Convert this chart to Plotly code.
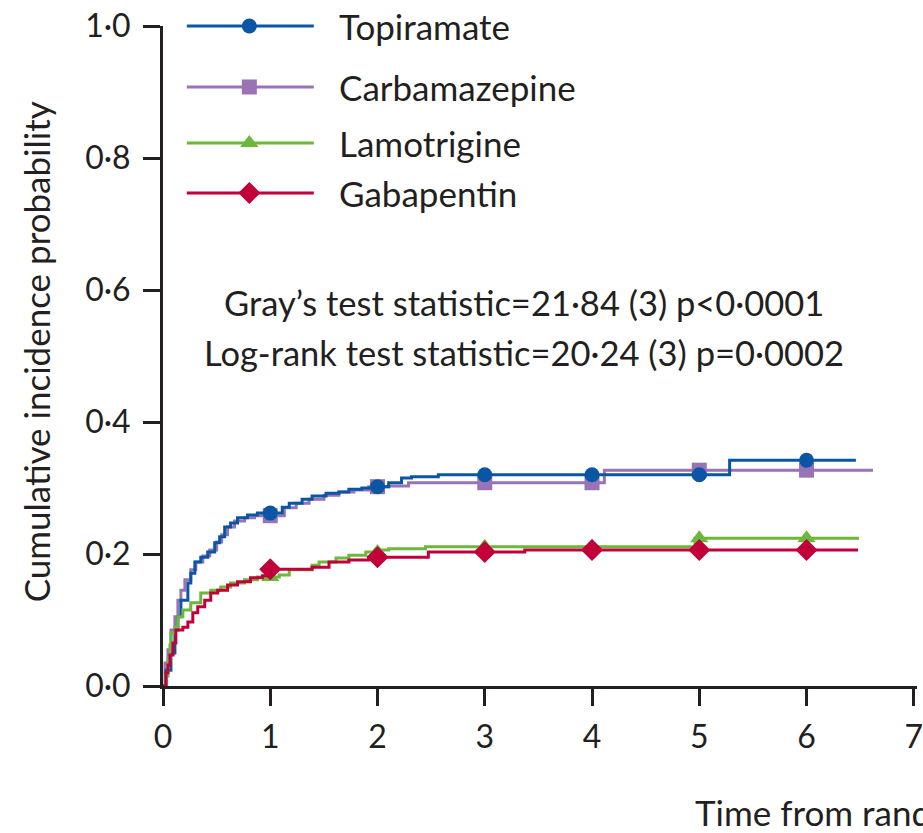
import numpy as np
import plotly.graph_objects as go

# Cumulative incidence step curves (time in years, probability)
topiramate_t = [0, 0.028, 0.074, 0.111, 0.139, 0.167, 0.232, 0.259, 0.297, 0.352, 0.417,
                0.482, 0.528, 0.575, 0.630, 0.695, 0.788, 0.880, 1.112, 1.177, 1.297,
                1.390, 1.520, 1.640, 1.733, 1.854, 1.983, 2.104, 2.224, 2.317, 2.567,
                5.283, 6.46]
topiramate_v = [0, 0.024, 0.050, 0.085, 0.105, 0.130, 0.156, 0.171, 0.188, 0.195, 0.203,
                0.217, 0.226, 0.241, 0.247, 0.255, 0.259, 0.262, 0.271, 0.277, 0.283,
                0.288, 0.292, 0.294, 0.298, 0.300, 0.302, 0.308, 0.315, 0.317, 0.320,
                0.342, 0.342]

carbamazepine_t = [0, 0.019, 0.046, 0.074, 0.111, 0.139, 0.167, 0.204, 0.259, 0.306, 0.371,
                   0.436, 0.500, 0.547, 0.602, 0.667, 0.760, 0.853, 1.131, 1.242, 1.362,
                   1.501, 1.640, 1.779, 1.918, 2.104, 2.289, 4.115, 6.62]
carbamazepine_v = [0, 0.035, 0.055, 0.085, 0.105, 0.130, 0.145, 0.161, 0.176, 0.188, 0.197,
                   0.206, 0.218, 0.229, 0.241, 0.250, 0.255, 0.258, 0.270, 0.277, 0.283,
                   0.289, 0.294, 0.297, 0.302, 0.303, 0.308, 0.327, 0.327]

lamotrigine_t = [0, 0.028, 0.046, 0.065, 0.074, 0.111, 0.139, 0.185, 0.259, 0.352, 0.445,
                 0.538, 0.630, 0.760, 0.880, 1.084, 1.177, 1.390, 1.455, 1.613, 1.733,
                 1.891, 2.011, 2.104, 2.447, 4.96, 6.49]
lamotrigine_v = [0, 0.015, 0.039, 0.062, 0.080, 0.089, 0.105, 0.115, 0.126, 0.141, 0.145,
                 0.150, 0.156, 0.161, 0.165, 0.168, 0.176, 0.183, 0.188, 0.194, 0.198,
                 0.203, 0.206, 0.208, 0.211, 0.224, 0.224]

gabapentin_t = [0, 0.028, 0.046, 0.065, 0.093, 0.120, 0.185, 0.232, 0.278, 0.324, 0.389,
                0.445, 0.510, 0.602, 0.695, 0.816, 0.927, 0.995, 1.39, 1.548, 1.733,
                1.918, 2.474, 3.373, 6.48]
gabapentin_v = [0, 0.020, 0.032, 0.047, 0.065, 0.085, 0.089, 0.097, 0.111, 0.120, 0.130,
                0.141, 0.145, 0.153, 0.158, 0.164, 0.167, 0.177, 0.180, 0.188, 0.191,
                0.195, 0.203, 0.206, 0.206]

marker_years = [1, 2, 3, 4, 5, 6]

x_ticks = [0, 1, 2, 3, 4, 5, 6, 7]
y_ticks = [0.0, 0.2, 0.4, 0.6, 0.8, 1.0]
y_tick_text = ["0·0", "0·2", "0·4", "0·6", "0·8", "1·0"]

gray_text = "Gray’s test statistic=21·84 (3) p<0·0001"
logrank_text = "Log-rank test statistic=20·24 (3) p=0·0002"

FONT = "Lato"
INK = "#231f20"
LW = 3

# name, times, values, colour, marker symbol, marker size (drawing order)
series = [
    ("Carbamazepine", carbamazepine_t, carbamazepine_v, "#9873b6", "square", 15),
    ("Topiramate", topiramate_t, topiramate_v, "#0b56a4", "circle", 15),
    ("Lamotrigine", lamotrigine_t, lamotrigine_v, "#6cb83a", "triangle-up", 16),
    ("Gabapentin", gabapentin_t, gabapentin_v, "#c1003b", "diamond", 17),
]
legend_order = ["Topiramate", "Carbamazepine", "Lamotrigine", "Gabapentin"]


def step_value(times, values, t):
    idx = np.searchsorted(np.asarray(times), t, side="right") - 1
    return float(np.asarray(values)[idx])


fig = go.Figure()

for name, t, v, col, sym, msz in series:
    fig.add_trace(go.Scatter(
        x=t, y=v, mode="lines", line=dict(color=col, width=LW, shape="hv"),
        showlegend=False, hoverinfo="skip"))
    my = [step_value(t, v, yr) for yr in marker_years]
    fig.add_trace(go.Scatter(
        x=marker_years, y=my, mode="markers",
        marker=dict(symbol=sym, size=msz, color=col, opacity=1, line=dict(width=0)),
        showlegend=False, cliponaxis=False, hoverinfo="skip"))

# Legend: sample lines as paper shapes, marker glyphs on an overlay axis
legend_rows = [1.0, 0.9076, 0.8227, 0.747]
style = {s[0]: s for s in series}
for row_y, name in zip(legend_rows, legend_order):
    _, _, _, col, sym, msz = style[name]
    fig.add_shape(type="line", xref="paper", yref="paper",
                  x0=0.0316, x1=0.2, y0=row_y, y1=row_y, layer="below",
                  line=dict(color=col, width=3.2))
    fig.add_trace(go.Scatter(
        x=[0.1145], y=[row_y], xaxis="x2", yaxis="y2", mode="markers",
        marker=dict(symbol=sym, size=msz, color=col, opacity=1, line=dict(width=0)),
        showlegend=False, cliponaxis=False, hoverinfo="skip"))
    fig.add_annotation(
        x=0.231, y=row_y, xref="x2", yref="y2", text=name, showarrow=False,
        xanchor="left", yanchor="middle", font=dict(family=FONT, size=35, color=INK))

fig.add_annotation(x=0.479, y=(686 - 302) / 660, xref="paper", yref="paper",
                   text=gray_text, showarrow=False, xanchor="center", yanchor="middle",
                   font=dict(family=FONT, size=34.5, color=INK))
fig.add_annotation(x=0.479, y=(686 - 352) / 660, xref="paper", yref="paper",
                   text=logrank_text, showarrow=False, xanchor="center", yanchor="middle",
                   font=dict(family=FONT, size=34.5, color=INK))

# Axis titles
fig.add_annotation(x=-0.168, y=0.506, xref="paper", yref="paper",
                   text="Cumulative incidence probability", textangle=-90,
                   showarrow=False, xanchor="center", yanchor="middle",
                   font=dict(family=FONT, size=35, color=INK))
fig.add_annotation(x=(697 - 163) / 760, y=(686 - 812) / 660, xref="paper", yref="paper",
                   text="Time from randomisation (years)", showarrow=False,
                   xanchor="left", yanchor="middle",
                   font=dict(family=FONT, size=35, color=INK))

fig.update_layout(
    width=923, height=833,
    margin=dict(l=163, r=0, t=26, b=147),
    paper_bgcolor="white", plot_bgcolor="white",
    showlegend=False,
    xaxis=dict(
        range=[0, 7.03], tickvals=x_ticks, ticktext=[str(v) for v in x_ticks],
        showgrid=False, zeroline=False, showline=True, linecolor=INK, linewidth=3,
        ticks="outside", ticklen=17, tickwidth=3, tickcolor=INK,
        ticklabelstandoff=4, ticklabeloverflow="allow",
        tickfont=dict(family=FONT, size=32, color=INK), fixedrange=True),
    yaxis=dict(
        range=[0, 1], tickvals=y_ticks, ticktext=y_tick_text,
        showgrid=False, zeroline=False, showline=True, linecolor=INK, linewidth=3,
        ticks="outside", ticklen=17, tickwidth=3, tickcolor=INK,
        ticklabelstandoff=6, ticklabeloverflow="allow",
        tickfont=dict(family=FONT, size=32, color=INK), fixedrange=True),
    xaxis2=dict(overlaying="x", range=[0, 1], visible=False, fixedrange=True),
    yaxis2=dict(overlaying="y", range=[0, 1], visible=False, fixedrange=True),
)

fig.write_html("out.html")
